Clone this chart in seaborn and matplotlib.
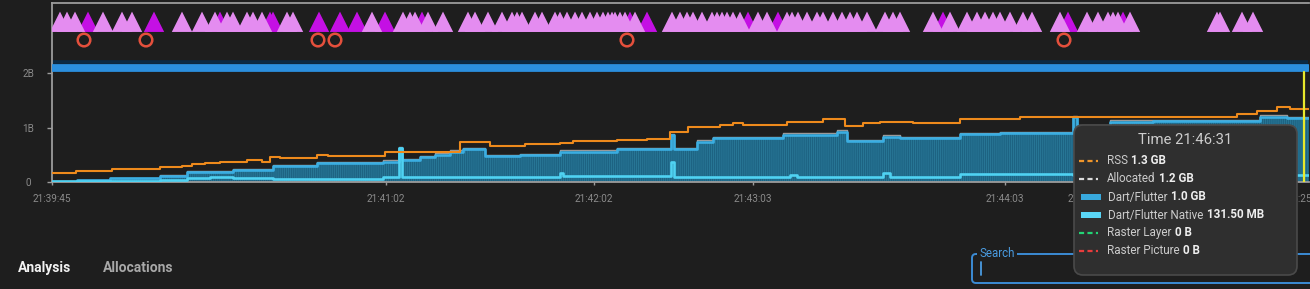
import numpy as np
import pandas as pd
import matplotlib
matplotlib.use("Agg")
import matplotlib.pyplot as plt
import seaborn as sns
from matplotlib.patches import FancyBboxPatch, Rectangle

# ---------------- data (x = sample index, y = GB) ----------------
rss_idx = [0, 12, 30, 54, 65, 70, 76.5, 84, 97.5, 105, 109, 114, 132.5, 138, 156.5, 166.5,
           204, 219, 236.5, 254, 260.5, 282.5, 297.5, 309, 318, 334, 340.5, 345.5, 367.5,
           385.5, 396.5, 405.5, 414, 430.5, 454, 484, 592.5, 602.5, 612.5, 619, 629]
rss_gb = [0.165, 0.20, 0.24, 0.28, 0.30, 0.335, 0.355, 0.37, 0.41, 0.367, 0.464, 0.44, 0.50,
          0.477, 0.486, 0.55, 0.734, 0.66, 0.70, 0.72, 0.75, 0.77, 0.79, 0.917, 1.01, 1.046,
          1.077, 1.05, 1.10, 1.156, 1.03, 1.077, 1.106, 1.088, 1.156, 1.187, 1.242, 1.30,
          1.37, 1.345, 1.345]

total_idx = [0, 12.5, 29, 54, 67.5, 90.5, 110.5, 132.5, 165.5, 173.5, 175, 184, 191.5, 199,
             205.5, 216.5, 234, 254, 282.5, 309.5, 311, 322.5, 330.5, 365.5, 392.5, 397.5,
             415.5, 424, 454, 474, 510.5, 512.5, 529, 550.5, 604, 617.5, 629]
total_gb = [0.006, 0.037, 0.068, 0.11, 0.19, 0.22, 0.294, 0.343, 0.372, 0.63, 0.40, 0.46,
            0.50, 0.556, 0.605, 0.477, 0.495, 0.556, 0.60, 0.862, 0.60, 0.74, 0.80, 0.862,
            0.923, 0.752, 0.83, 0.80, 0.875, 0.894, 1.198, 1.03, 1.106, 1.12, 1.198, 1.17, 1.17]

alloc_gb = [0.01, 0.045, 0.08, 0.125, 0.21, 0.24, 0.315, 0.365, 0.395, 0.65, 0.425, 0.485,
            0.525, 0.58, 0.63, 0.50, 0.52, 0.58, 0.625, 0.885, 0.625, 0.765, 0.825, 0.89,
            0.95, 0.775, 0.855, 0.825, 0.90, 0.92, 1.22, 1.055, 1.13, 1.145, 1.225, 1.2, 1.2]

native_idx = [0, 54, 67.5, 79, 90.5, 110.5, 165.5, 173.5, 175, 254, 255.5, 309.5, 311, 369,
              372.5, 415.5, 419, 454, 510.5, 629]
native_gb = [0.01, 0.037, 0.068, 0.097, 0.068, 0.05, 0.097, 0.62, 0.097, 0.165, 0.116, 0.37,
             0.086, 0.134, 0.086, 0.16, 0.097, 0.147, 0.13, 0.13]

event_light_idx = [4, 7.5, 11.5, 25.5, 35, 40, 65, 75, 81.5, 87.5, 90.5, 97.5, 100.5, 105,
                   117.5, 120.5, 160, 175.5, 179, 181.5, 188, 195.5, 208, 211.5, 218, 225,
                   230, 232.5, 235, 241.5, 245, 251.5, 254, 257.5, 261.5, 265, 269, 272.5,
                   275.5, 278, 280, 281.5, 284, 286.5, 291.5, 310, 314, 317.5, 320.5, 325,
                   330, 332.5, 335, 337.5, 340.5, 344, 353, 357.5, 367.5, 370, 373, 377.5,
                   382.5, 385.5, 390.5, 395, 399, 402.5, 407.5, 416.5, 420.5, 424, 440.5,
                   449, 457.5, 462.5, 466.5, 470.5, 474, 479, 485.5, 490, 504, 517.5, 523,
                   528, 530.5, 533, 539, 582.5, 584, 595, 600.5]
event_dark_idx = [18, 51, 84, 109, 110.5, 133.5, 144, 152.5, 166.5, 185, 289, 297.5, 348,
                  363, 445.5, 508, 535.5]
gc_circle_idx = [16, 47, 133, 141.5, 287.5, 506]

event_level = 2.94
circle_level = 2.605
gc_level = 2.09
gc_shadow_level = 2.2
cursor_idx = 626
cursor_top = 2.02

y_ticks = [0, 1, 2]
y_tick_labels = ["0", "1B", "2B"]
x_ticks = [0, 167, 271, 350.5, 476.5, 517.5, 620.5]
x_tick_labels = ["21:39:45", "21:41:02", "21:42:02", "21:43:03", "21:44:03", "21:45:03", "21:46:25"]

tip_title = "Time 21:46:31"
tip_labels = ["RSS", "Allocated", "Dart/Flutter", "Dart/Flutter Native", "Raster Layer", "Raster Picture"]
tip_values = ["1.3 GB", "1.2 GB", "1.0 GB", "131.50 MB", "0 B", "0 B"]
tip_kinds = ["dash", "dash", "bar", "bar", "dash", "dash"]
tip_colors = ["#f0962a", "#dcdcdc", "#38a9dd", "#5ad6f6", "#22d475", "#e83c3c"]

# ---------------- style ----------------
sns.set_style("dark")
BG = "#1e1e1e"
plt.rcParams["font.family"] = ["Roboto", "DejaVu Sans"]
plt.rcParams["hatch.linewidth"] = 0.6

fig = plt.figure(figsize=(13.1, 2.89), dpi=100, facecolor=BG)
W, H = 1310, 289
ax = fig.add_axes([52 / W, 107 / H, 1257 / W, 179 / H])
ax.set_facecolor(BG)
ax.grid(False)

# memory area
ax.fill_between(total_idx, 0, total_gb, step="post", facecolor="#1d6382",
                edgecolor="#2a7a9a", hatch="||||||||", linewidth=0, zorder=1)
sns.lineplot(x=total_idx, y=alloc_gb, drawstyle="steps-post", color="#9a9a9a",
             linewidth=1.0, ax=ax, zorder=2)
sns.lineplot(x=total_idx, y=total_gb, drawstyle="steps-post", color="#3aaee2",
             linewidth=1.9, ax=ax, zorder=3)
sns.lineplot(x=native_idx, y=native_gb, drawstyle="steps-post", color="#4fd2f2",
             linewidth=1.9, ax=ax, zorder=3)
sns.lineplot(x=rss_idx, y=rss_gb, drawstyle="steps-post", color="#ee8a1c",
             linewidth=1.5, ax=ax, zorder=4)

# GC band
ax.plot([0, 628], [gc_shadow_level, gc_shadow_level], color="#0b2a45", lw=2.6,
        solid_capstyle="butt", zorder=2)
ax.plot([0, 628], [gc_level, gc_level], color="#2b8fde", lw=5.6,
        solid_capstyle="round", zorder=3)

# events
sns.scatterplot(x=event_dark_idx, y=[event_level] * len(event_dark_idx), marker="^",
                s=215, color="#c410e4", edgecolor="none", ax=ax, zorder=5)
sns.scatterplot(x=event_light_idx, y=[event_level] * len(event_light_idx), marker="^",
                s=215, color="#e48cf0", edgecolor="none", ax=ax, zorder=6)
ax.scatter(gc_circle_idx, [circle_level] * len(gc_circle_idx), s=82, facecolors="none",
           edgecolors="#e5503c", linewidths=1.8, zorder=6)

# cursor
ax.plot([cursor_idx, cursor_idx], [0, cursor_top], color="#e8e82c", lw=1.6, zorder=7)

ax.set_xlim(0, 628.5)
ax.set_ylim(0, 179 / 54.5)
ax.set_xlabel("")
ax.set_ylabel("")
ax.set_yticks(y_ticks, y_tick_labels)
ax.set_xticks(x_ticks, x_tick_labels)
for lab in ax.get_yticklabels():
    lab.set_ha("center")
ax.tick_params(axis="y", length=3.6, width=1, color="#9c9c9c", labelsize=7.2,
               labelcolor="#8a8a8a", pad=13.5, left=True)
ax.tick_params(axis="x", length=2.5, width=1, color="#9c9c9c", labelsize=7.2,
               labelcolor="#8a8a8a", pad=6.5, bottom=True)
for side in ["left", "top", "bottom"]:
    ax.spines[side].set_color("#9c9c9c")
    ax.spines[side].set_linewidth(1.3)
    ax.spines[side].set_visible(True)
ax.spines["right"].set_visible(False)

# ---------------- overlay (pixel coords) ----------------
ov = fig.add_axes([0, 0, 1, 1], zorder=10)
ov.set_xlim(0, W)
ov.set_ylim(H, 0)
ov.axis("off")
ov.patch.set_alpha(0)

# bottom tabs
ov.text(18, 268, "Analysis", fontsize=10, fontweight="bold", color="#f2f2f2", va="center")
ov.text(103, 268, "Allocations", fontsize=10, fontweight="bold", color="#a8a8a8", va="center")

# search box
ov.add_patch(FancyBboxPatch((972, 254), 360, 29, boxstyle="round,pad=0,rounding_size=4",
                            fc="none", ec="#3b8bd4", lw=1.4, zorder=2))
ov.text(979.5, 253.5, "Search", fontsize=8.3, color="#4a9be0", va="center", ha="left",
        zorder=3, bbox=dict(fc=BG, ec="none", pad=1.5))
ov.plot([980.5, 980.5], [262, 275], color="#4a9be0", lw=1.3, zorder=3)

# tooltip
ov.add_patch(FancyBboxPatch((1074, 125), 223, 150, boxstyle="round,pad=0,rounding_size=9",
                            fc="#2f2f2f", ec="#4a4a4a", lw=1.2, zorder=5))
ov.text(1185, 140, tip_title, ha="center", va="center", fontsize=10.7, color="#cdcdcd", zorder=6)
row_y = [161, 179, 197, 215, 232.5, 250.5]
for lab, val, kind, col, yy in zip(tip_labels, tip_values, tip_kinds, tip_colors, row_y):
    if kind == "dash":
        ov.plot([1079, 1098], [yy, yy], color=col, lw=1.6, dashes=(2.3, 1.5), zorder=6)
        tx = 1107
    else:
        ov.add_patch(Rectangle((1081, yy - 3), 20, 6, fc=col, ec="none", zorder=6))
        tx = 1108
    t = ov.text(tx, yy, lab, va="center", ha="left", fontsize=8.4, color="#cccccc", zorder=6)
    ov.annotate(val, xy=(1, 0.5), xycoords=t, xytext=(2.5, 0), textcoords="offset points",
                va="center", ha="left", fontsize=8.4, fontweight="bold", color="#eeeeee", zorder=6)

fig.savefig("out.png", dpi=100, facecolor=BG)
